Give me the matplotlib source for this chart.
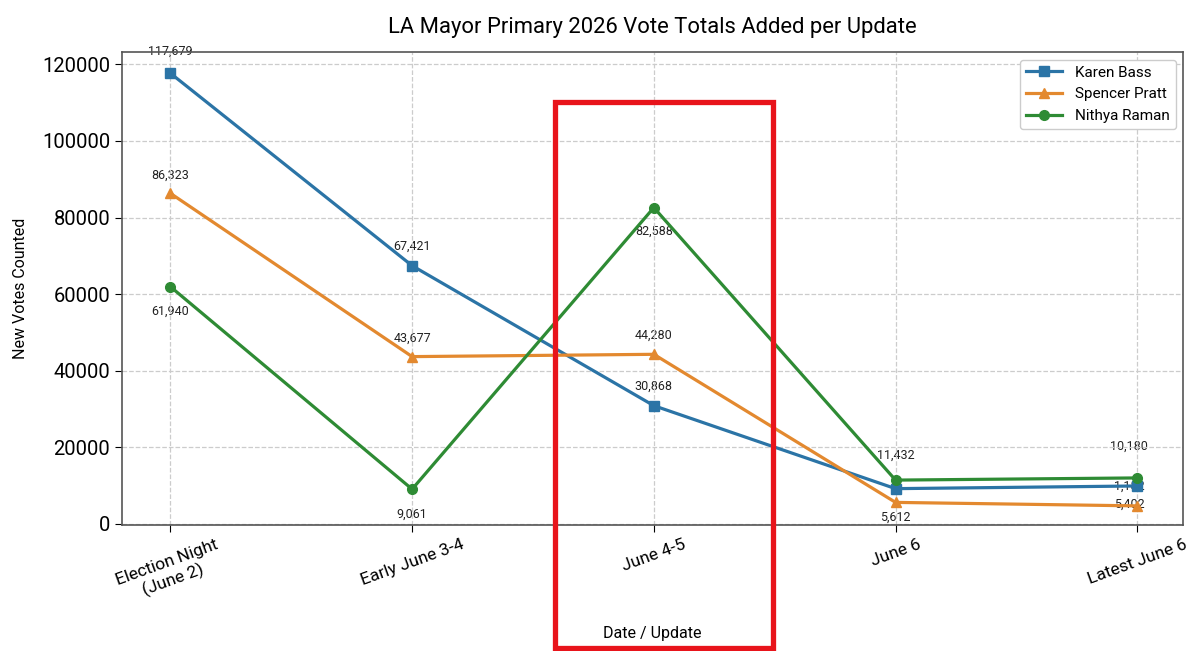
import matplotlib.pyplot as plt
from matplotlib.patches import Rectangle

plt.rcParams['font.family'] = ['Roboto', 'DejaVu Sans']

# Data
updates = ['Election Night\n(June 2)', 'Early June 3-4', 'June 4-5', 'June 6', 'Latest June 6']
bass = [117679, 67421, 30868, 9200, 9900]
pratt = [86323, 43677, 44280, 5612, 4700]
raman = [61940, 9061, 82588, 11432, 12000]

# Label texts as printed on the chart (None = no label shown)
bass_labels = ['117,679', '67,421', '30,868', None, '1,182']
pratt_labels = ['86,323', '43,677', '44,280', '5,612', '5,402']
raman_labels = ['61,940', '9,061', '82,588', '11,432', '10,180']

# Label offsets in points (dx, dy)
bass_off = [(0, 16), (0, 14), (0, 14), None, (-6, 0)]
pratt_off = [(0, 13), (0, 13), (0, 14), (0, -11), (-6, 1)]
raman_off = [(0, -18), (0, -18), (0, -17), (0, 18), (-6, 23)]

fig = plt.figure(figsize=(12, 6.51), dpi=100)
ax = fig.add_axes([0.1017, 0.1935, 0.8843, 0.7265])

x = list(range(len(updates)))
series = [
    ('Karen Bass', bass, bass_labels, bass_off, '#2b74a6', 's'),
    ('Spencer Pratt', pratt, pratt_labels, pratt_off, '#e3892f', '^'),
    ('Nithya Raman', raman, raman_labels, raman_off, '#2e8b34', 'o'),
]

for name, vals, labels, offs, color, marker in series:
    ax.plot(x, vals, color=color, marker=marker, markersize=7, linewidth=2.3, label=name)
    for xi, v, lab, off in zip(x, vals, labels, offs):
        if lab is None:
            continue
        ax.annotate(lab, (xi, v), xytext=off, textcoords='offset points',
                    ha='center', va='center', fontsize=9, color='#222222', zorder=1)

ax.set_xticks(x)
ax.set_xticklabels(updates, rotation=20, ha='center', multialignment='center', fontsize=12.5)
ax.tick_params(axis='y', labelsize=14.5)
ax.tick_params(axis='both', length=5)
ax.set_xlim(-0.2, 4.19)
ax.set_ylim(-300, 123200)

ax.grid(True, linestyle='--', color='#cccccc', linewidth=0.9)
for s in ax.spines.values():
    s.set_color('#555555')
    s.set_linewidth(1.2)

ax.set_title('LA Mayor Primary 2026 Vote Totals Added per Update', fontsize=15.8, pad=14)
ax.set_xlabel('Date / Update', fontsize=11.5, labelpad=14)
ax.set_ylabel('New Votes Counted', fontsize=11.5, labelpad=10)
ax.legend(loc='upper right', fontsize=11, framealpha=1, handlelength=2.4)

# Red highlight box around June 4-5
fig.patches.append(Rectangle((0.4625, 0.005), 0.1817, 0.8387, transform=fig.transFigure,
                             fill=False, edgecolor='#e8141b', linewidth=3.8))

fig.savefig('out.png', dpi=100)
